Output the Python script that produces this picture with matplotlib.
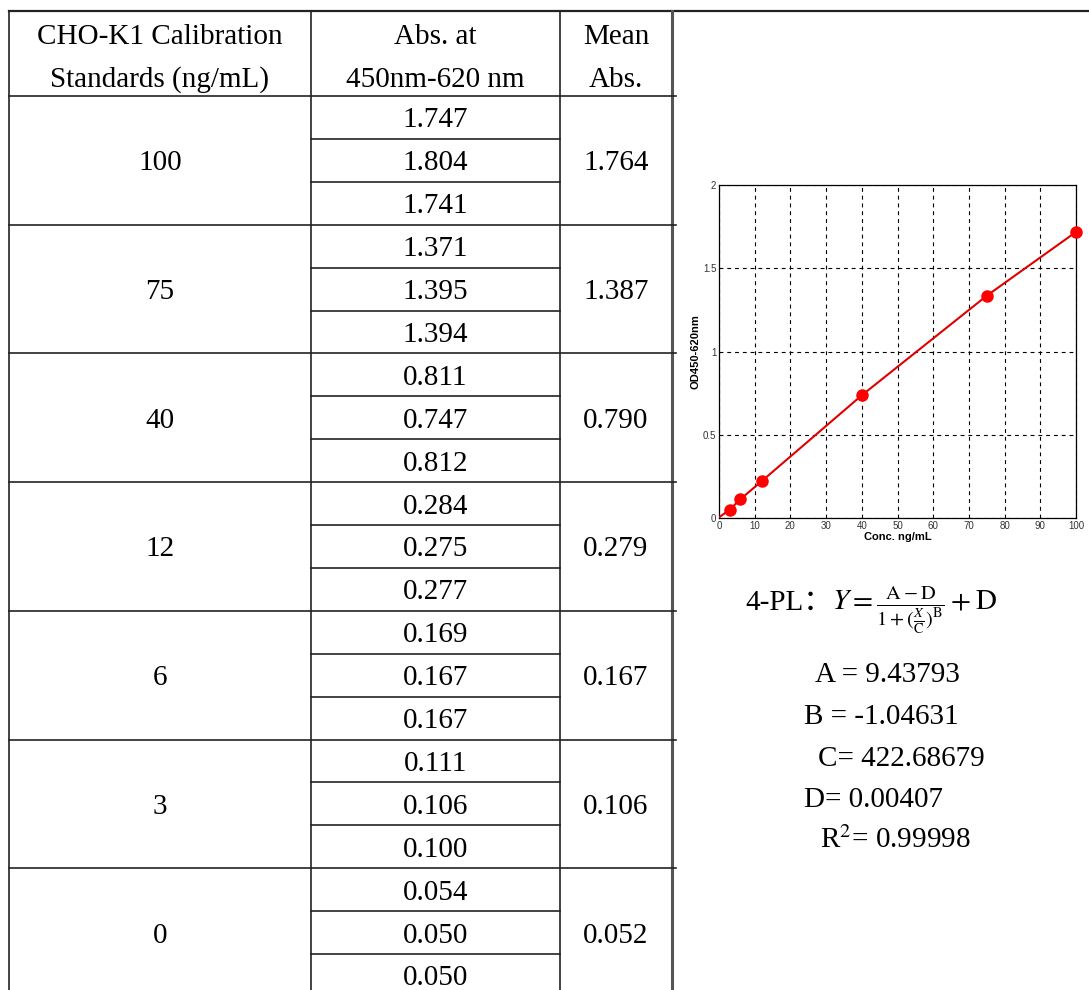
import matplotlib
matplotlib.use('Agg')
import matplotlib.pyplot as plt

plt.rcParams['mathtext.fontset'] = 'stix'

# 表格数据
standards = ['100', '75', '40', '12', '6', '3', '0']
replicates = [
    ['1.747', '1.804', '1.741'],
    ['1.371', '1.395', '1.394'],
    ['0.811', '0.747', '0.812'],
    ['0.284', '0.275', '0.277'],
    ['0.169', '0.167', '0.167'],
    ['0.111', '0.106', '0.100'],
    ['0.054', '0.050', '0.050'],
]
means = ['1.764', '1.387', '0.790', '0.279', '0.167', '0.106', '0.052']
header_1 = ['CHO-K1 Calibration', 'Standards (ng/mL)']
header_2 = ['Abs. at', '450nm-620 nm']
header_3 = ['Mean', 'Abs.']

# 标准曲线数据（扣除空白）
conc = [3, 6, 12, 40, 75, 100]
od = [0.050, 0.113, 0.222, 0.737, 1.335, 1.718]
curve_x = [0, 3, 6, 12, 40, 75, 100]
curve_y = [0.004, 0.050, 0.113, 0.222, 0.737, 1.335, 1.718]
x_ticks = [0, 10, 20, 30, 40, 50, 60, 70, 80, 90, 100]
y_ticks = [0, 0.5, 1, 1.5, 2]
y_tick_labels = ['0', '0.5', '1', '1.5', '2']

params = ['A = 9.43793', 'B = -1.04631', 'C= 422.68679', 'D= 0.00407', r'R$^{2}$= 0.99998']

W, H = 1089, 990
fig = plt.figure(figsize=(W / 100, H / 100), dpi=100)
bg = fig.add_axes([0, 0, 1, 1])
bg.set_xlim(0, W)
bg.set_ylim(H, 0)
bg.axis('off')

serif = 'Liberation Serif'
fs = 21

# 表格框架
x0, x1, x2, x3 = 9, 311, 560, 672
top, head_bot = 11, 96
row_h = 42.9
n_rows = len(standards) * 3
bottom = head_bot + n_rows * row_h

bg.plot([x0, W], [top, top], color='#222222', lw=1.6)
for x in [x0, x1, x2]:
    bg.plot([x, x], [top, bottom], color='#222222', lw=1.2)
bg.plot([x3, x3], [top, bottom], color='#555555', lw=2.2)
for g in range(len(standards)):
    y = head_bot + g * 3 * row_h
    bg.plot([x0, x3 + 4], [y, y], color='#222222', lw=1.2)
    for k in (1, 2):
        yy = y + k * row_h
        bg.plot([x1, x2], [yy, yy], color='#222222', lw=1.2)

# 表头
for i, (c, lines) in enumerate(zip([(x0 + x1) / 2, (x1 + x2) / 2, (x2 + x3) / 2],
                                    [header_1, header_2, header_3])):
    for j, t in enumerate(lines):
        bg.text(c, 44 + j * 43, t, ha='center', va='baseline',
                fontsize=fs, family=serif)

# 表格内容
for g, std in enumerate(standards):
    y = head_bot + g * 3 * row_h
    gc = y + 1.5 * row_h
    bg.text((x0 + x1) / 2, gc + 10, std, ha='center', va='baseline',
            fontsize=fs, family=serif)
    bg.text((x2 + x3) / 2, gc + 10, means[g], ha='center', va='baseline',
            fontsize=fs, family=serif)
    for k, v in enumerate(replicates[g]):
        rc = y + (k + 0.5) * row_h
        bg.text((x1 + x2) / 2, rc + 10, v, ha='center', va='baseline',
                fontsize=fs, family=serif)

# 公式与参数
bg.text(745, 610, '4-PL：', ha='left', va='baseline', fontsize=fs,
        family=[serif, 'Noto Sans CJK SC'])
bg.text(832, 610, r'$Y=\frac{\mathrm{A-D}}{1+(\frac{X}{\mathrm{C}})^{\mathrm{B}}}+\mathrm{D}$',
        ha='left', va='baseline', fontsize=fs)
param_x = [815, 804, 818, 804, 820]
param_y = [682, 724, 766, 807, 848]
for t, px, py in zip(params, param_x, param_y):
    bg.text(px, py, t, ha='left', va='baseline', fontsize=fs, family=serif)

# 标准曲线图
al, ar, at, ab = 719, 1076, 185, 518
ax = fig.add_axes([al / W, 1 - ab / H, (ar - al) / W, (ab - at) / H])
ax.plot(curve_x, curve_y, color='#e00000', lw=1.5, zorder=3)
ax.plot(conc, od, 'o', color='#ff0000', ms=8, zorder=4, clip_on=False)
ax.set_xlim(0, 100)
ax.set_ylim(0, 2)
ax.set_xticks(x_ticks)
ax.set_yticks(y_ticks)
ax.set_yticklabels(y_tick_labels)
ax.tick_params(length=0, pad=2, labelsize=7, labelcolor='#333333')
for lab in ax.get_xticklabels() + ax.get_yticklabels():
    lab.set_family('Liberation Sans')
ax.grid(True, color='black', lw=0.8, linestyle=(0, (3.5, 3.5)))
for s in ax.spines.values():
    s.set_linewidth(0.9)
ax.set_xlabel('Conc. ng/mL', fontsize=8, fontweight='bold',
              family='Liberation Sans', labelpad=1)
ax.set_ylabel('OD450-620nm', fontsize=8, fontweight='bold',
              family='Liberation Sans', labelpad=2)

fig.savefig('out.png', dpi=100, facecolor='white')
